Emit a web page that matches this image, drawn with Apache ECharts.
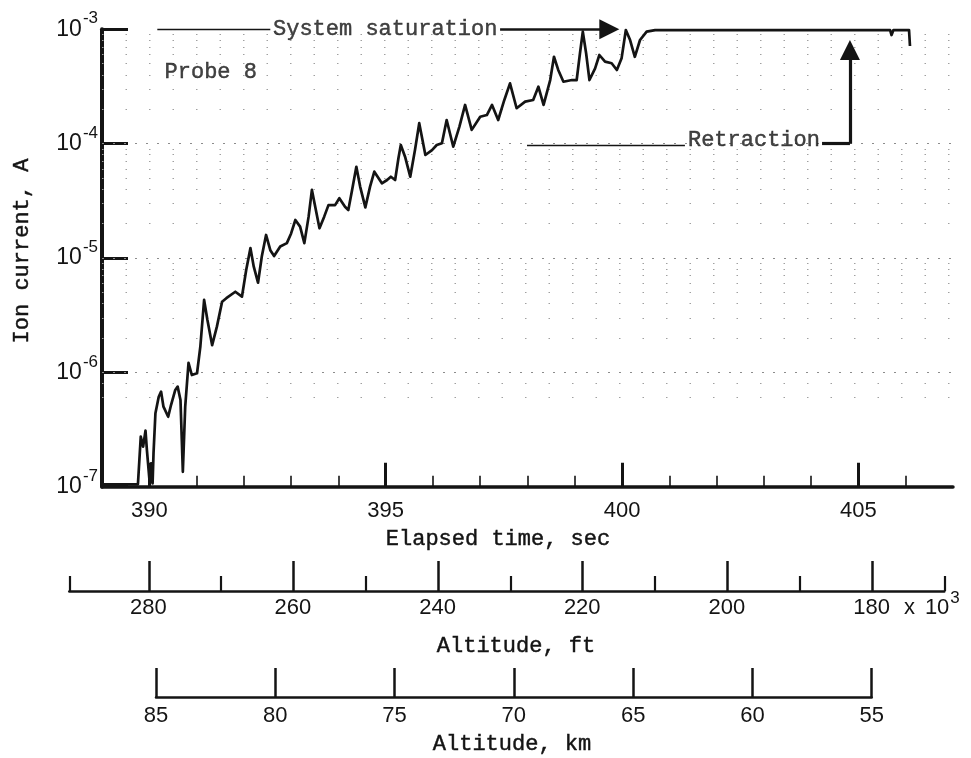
<!DOCTYPE html>
<html>
<head>
<meta charset="utf-8">
<script src="https://cdn.jsdelivr.net/npm/echarts@6/dist/echarts.min.js"></script>
<style>
  html, body { margin: 0; padding: 0; background: #fff; }
  #chart { width: 971px; height: 758px; }
</style>
</head>
<body>
<div id="chart"></div>
<script>
// Probe 8 ion-current trace: elapsed time (s) and current (A)
const elapsedTime = [389.00, 389.76, 389.82, 389.87, 389.92, 389.95, 390.01, 390.04, 390.07, 390.09,
  390.13, 390.20, 390.25, 390.30, 390.40, 390.46, 390.55, 390.60, 390.66, 390.71,
  390.76, 390.83, 390.90, 391.01, 391.08, 391.16, 391.23, 391.33, 391.43, 391.54,
  391.63, 391.82, 391.96, 392.05, 392.14, 392.21, 392.30, 392.38, 392.47, 392.56,
  392.64, 392.77, 392.91, 393.00, 393.09, 393.19, 393.28, 393.37, 393.44, 393.51,
  393.60, 393.70, 393.79, 393.93, 394.02, 394.14, 394.21, 394.29, 394.38, 394.46,
  394.57, 394.67, 394.76, 394.92, 395.03, 395.11, 395.20, 395.27, 395.32, 395.41,
  395.52, 395.62, 395.71, 395.84, 395.98, 396.08, 396.19, 396.29, 396.43, 396.56,
  396.68, 396.82, 397.00, 397.14, 397.25, 397.38, 397.51, 397.63, 397.77, 397.95,
  398.12, 398.23, 398.34, 398.48, 398.56, 398.65, 398.76, 398.94, 399.04, 399.11,
  399.17, 399.24, 399.31, 399.43, 399.52, 399.64, 399.78, 399.89, 399.99, 400.08,
  400.17, 400.27, 400.38, 400.52, 400.70, 405.67, 405.70, 405.74, 406.07, 406.09];

const ionCurrent = [1.05e-7, 1.05e-7, 2.74e-7, 2.24e-7, 3.09e-7, 2.09e-7, 1.07e-7, 1.60e-7, 1.07e-7, 1.97e-7,
  4.39e-7, 6.12e-7, 6.78e-7, 5.01e-7, 4.09e-7, 5.18e-7, 7.02e-7, 7.50e-7, 5.73e-7, 1.35e-7,
  5.01e-7, 1.21e-6, 9.48e-7, 9.82e-7, 1.68e-6, 4.30e-6, 2.87e-6, 1.73e-6, 2.51e-6, 4.15e-6,
  4.45e-6, 5.07e-6, 4.59e-6, 7.85e-6, 1.22e-5, 8.39e-6, 6.08e-6, 1.03e-5, 1.59e-5, 1.17e-5,
  1.04e-5, 1.26e-5, 1.35e-5, 1.64e-5, 2.15e-5, 1.88e-5, 1.35e-5, 2.30e-5, 3.94e-5, 2.81e-5,
  1.82e-5, 2.30e-5, 2.90e-5, 2.90e-5, 3.33e-5, 2.81e-5, 2.63e-5, 3.94e-5, 6.28e-5, 4.21e-5,
  2.77e-5, 4.21e-5, 5.69e-5, 4.50e-5, 4.81e-5, 5.14e-5, 4.81e-5, 7.45e-5, 9.73e-5, 7.69e-5,
  5.14e-5, 8.79e-5, 1.51e-4, 7.96e-5, 8.79e-5, 9.73e-5, 1.01e-4, 1.61e-4, 9.40e-5, 1.41e-4,
  2.18e-4, 1.32e-4, 1.72e-4, 1.78e-4, 2.18e-4, 1.61e-4, 2.41e-4, 3.37e-4, 2.04e-4, 2.33e-4,
  2.41e-4, 3.15e-4, 2.18e-4, 3.60e-4, 5.75e-4, 4.41e-4, 3.48e-4, 3.60e-4, 3.60e-4, 6.17e-4,
  9.53e-4, 6.17e-4, 3.60e-4, 4.56e-4, 5.96e-4, 5.21e-4, 5.05e-4, 4.41e-4, 5.57e-4, 9.85e-4,
  8.06e-4, 5.75e-4, 8.06e-4, 9.53e-4, 9.85e-4, 9.85e-4, 8.91e-4, 9.85e-4, 9.85e-4, 7.14e-4];

// Axis ticks
const timeMajorTicks = [390, 395, 400, 405];
const timeMinorTicks = [390, 391, 392, 393, 394, 395, 396, 397, 398, 399, 400, 401, 402, 403, 404, 405, 406];
const altFtMajorTicks = [280, 260, 240, 220, 200, 180];
const altFtMinorTicks = [291, 270, 250, 230, 210, 190, 170];
const altKmTicks = [85, 80, 75, 70, 65, 60, 55];

// Faint log-paper rulings (A)
const gridDecades = [1e-6, 1e-5, 1e-4];
const gridMinorLevels = [
  6e-7, 8e-7,
  2e-6, 3e-6, 4e-6, 5e-6, 6e-6, 7e-6, 8e-6, 9e-6,
  2e-5, 3e-5, 4e-5, 5e-5, 6e-5, 7e-5, 8e-5, 9e-5,
  2e-4, 3e-4, 4e-4, 5e-4, 6e-4, 7e-4, 8e-4, 9e-4];

// Annotation text and their anchors (elapsed time, current)
const annotationTexts = ['System saturation', 'Retraction', 'Probe 8'];
const annotationAnchors = [[394.99, 1.0e-3], [402.79, 1.07e-4], [391.30, 4.19e-4]];
const saturationLead = [[390.17, 1.0e-3], [392.56, 1.0e-3]];
const saturationArrow = [[397.42, 1.0e-3], [399.73, 1.0e-3]];
const retractionLead = [[397.99, 9.7e-5], [401.33, 9.7e-5]];
const retractionElbow = [[404.23, 1.0e-4], [404.82, 1.0e-4]];
const retractionArrow = [[404.82, 1.0e-4], [404.82, 6.6e-4]];

const INK = '#141414';
const MONO = '"Liberation Mono", "DejaVu Sans Mono", monospace';
const SANS = '"Liberation Sans", "DejaVu Sans", sans-serif';
const T_MIN = 389, T_MAX = 407;

const chart = echarts.init(document.getElementById('chart'), null, { renderer: 'canvas' });
const trace = elapsedTime.map((t, i) => [t, ionCurrent[i]]);

const ruling = (levels, dash, color) => levels.map(v => ({
  coords: [[T_MIN, v], [T_MAX, v]],
  lineStyle: { type: dash, color: color, width: 1 }
}));

const titleStyle = text => ({
  text: text, font: '22px ' + MONO, fill: INK, stroke: INK, lineWidth: 0.45,
  align: 'center', verticalAlign: 'middle'
});

const option = {
  backgroundColor: '#ffffff',
  animation: false,
  grid: [
    { left: 102, right: 18, top: 29.3, height: 457.4 },
    { left: 69.3, right: 26.7, top: 561, height: 30 },
    { left: 156, right: 99.3, top: 668, height: 29 }
  ],
  xAxis: [
    {
      gridIndex: 0, type: 'value', position: 'bottom', min: T_MIN, max: T_MAX,
      axisLine: { show: true, onZero: false, lineStyle: { color: INK, width: 3.5 } },
      axisTick: { show: true, inside: true, length: 24, lineStyle: { color: INK, width: 3 }, customValues: timeMajorTicks },
      axisLabel: { customValues: timeMajorTicks, margin: 13, color: INK, fontFamily: SANS, fontSize: 22, lineHeight: 22 },
      splitLine: { show: false }
    },
    {
      gridIndex: 0, type: 'value', position: 'bottom', min: T_MIN, max: T_MAX,
      axisLine: { show: false },
      axisTick: { show: true, inside: true, length: 11, lineStyle: { color: INK, width: 1.6 }, customValues: timeMinorTicks },
      axisLabel: { show: false },
      splitLine: { show: false }
    },
    {
      gridIndex: 1, type: 'value', position: 'bottom', min: 170, max: 291, inverse: true,
      axisLine: { show: true, onZero: false, lineStyle: { color: INK, width: 2.5 } },
      axisTick: { show: true, inside: true, length: 30, lineStyle: { color: INK, width: 2.5 }, customValues: altFtMajorTicks },
      axisLabel: {
        customValues: altFtMajorTicks, margin: 6, color: INK,
        formatter: v => v === 180 ? '{pad| }{n|180}{x|x}{n|10}{sup|3}' : '{n|' + v + '}{g| }',
        rich: {
          pad: { width: 69, lineHeight: 22, verticalAlign: 'middle' },
          n: { fontFamily: SANS, fontSize: 22, lineHeight: 22, color: INK, verticalAlign: 'middle' },
          x: { fontFamily: SANS, fontSize: 22, lineHeight: 22, color: INK, padding: [0, 10, 0, 14], verticalAlign: 'middle' },
          sup: { fontFamily: SANS, fontSize: 17, lineHeight: 16, color: INK, padding: [0, 0, 20, 1], verticalAlign: 'middle' },
          g: { fontSize: 4, width: 1, lineHeight: 16, padding: [0, 0, 20, 0], verticalAlign: 'middle' }
        }
      },
      splitLine: { show: false }
    },
    {
      gridIndex: 1, type: 'value', position: 'bottom', min: 170, max: 291, inverse: true,
      axisLine: { show: false },
      axisTick: { show: true, inside: true, length: 15, lineStyle: { color: INK, width: 2.2 }, customValues: altFtMinorTicks },
      axisLabel: { show: false },
      splitLine: { show: false }
    },
    {
      gridIndex: 2, type: 'value', position: 'bottom', min: 55, max: 85, inverse: true,
      axisLine: { show: true, onZero: false, lineStyle: { color: INK, width: 2.5 } },
      axisTick: { show: true, inside: true, length: 29, lineStyle: { color: INK, width: 2.5 }, customValues: altKmTicks },
      axisLabel: { customValues: altKmTicks, margin: 8, color: INK, fontFamily: SANS, fontSize: 22, lineHeight: 22 },
      splitLine: { show: false }
    }
  ],
  yAxis: [
    {
      gridIndex: 0, type: 'log', logBase: 10, min: 1e-7, max: 1e-3,
      axisLine: { show: true, onZero: false, lineStyle: { color: INK, width: 4 } },
      axisTick: { show: true, inside: true, length: 26, lineStyle: { color: INK, width: 3 } },
      axisLabel: {
        margin: 4, color: INK,
        formatter: v => '{b|10}{s|' + Math.round(Math.log10(v)) + '}',
        rich: {
          b: { fontFamily: SANS, fontSize: 23, lineHeight: 22, color: INK, verticalAlign: 'middle' },
          s: { fontFamily: SANS, fontSize: 17, lineHeight: 16, color: INK, padding: [0, 0, 21, 1], verticalAlign: 'middle' }
        }
      },
      splitLine: { show: false },
      minorTick: { show: false }
    },
    { gridIndex: 1, type: 'value', min: 0, max: 1, show: false },
    { gridIndex: 2, type: 'value', min: 0, max: 1, show: false }
  ],
  series: [
    {
      // log-paper rulings
      type: 'lines', coordinateSystem: 'cartesian2d', xAxisIndex: 0, yAxisIndex: 0,
      silent: true, z: 1,
      lineStyle: { color: '#999', width: 1, opacity: 1 },
      data: ruling(gridDecades, [2, 9], '#8c8c8c').concat(ruling(gridMinorLevels, [1.5, 22], '#a0a0a0'))
    },
    {
      name: 'Probe 8', type: 'line', xAxisIndex: 0, yAxisIndex: 0,
      data: trace, showSymbol: false, symbol: 'none', clip: false, z: 4,
      lineStyle: { color: INK, width: 2.7, join: 'round' }
    },
    {
      type: 'lines', coordinateSystem: 'cartesian2d', xAxisIndex: 0, yAxisIndex: 0,
      silent: true, clip: false, z: 3,
      lineStyle: { color: INK, width: 1.3, opacity: 1 },
      data: [
        { coords: saturationLead },
        { coords: retractionLead },
        { coords: retractionElbow, lineStyle: { width: 3.2 } }
      ]
    },
    {
      type: 'lines', coordinateSystem: 'cartesian2d', xAxisIndex: 0, yAxisIndex: 0,
      silent: true, clip: false, z: 3,
      symbol: ['none', 'triangle'], symbolSize: [11, 20],
      lineStyle: { color: INK, width: 2.8, opacity: 1 },
      data: [
        { coords: saturationArrow, lineStyle: { width: 2.6 } },
        { coords: retractionArrow, lineStyle: { width: 3.2 } }
      ]
    },
    {
      type: 'scatter', xAxisIndex: 0, yAxisIndex: 0, symbolSize: 0, silent: true, clip: false, z: 5,
      data: annotationAnchors.map((p, i) => ({ value: p, name: annotationTexts[i] })),
      label: {
        show: true, position: 'inside', formatter: '{b}',
        fontFamily: MONO, fontSize: 22, color: INK, textBorderColor: INK, textBorderWidth: 0.45
      }
    }
  ],
  graphic: [
    { type: 'text', x: 498, y: 539, style: titleStyle('Elapsed time, sec') },
    { type: 'text', x: 22, y: 251, rotation: Math.PI / 2, style: titleStyle('Ion current, A') },
    { type: 'text', x: 516, y: 646, style: titleStyle('Altitude, ft') },
    { type: 'text', x: 512, y: 744, style: titleStyle('Altitude, km') }
  ]
};

chart.setOption(option);
</script>
</body>
</html>
